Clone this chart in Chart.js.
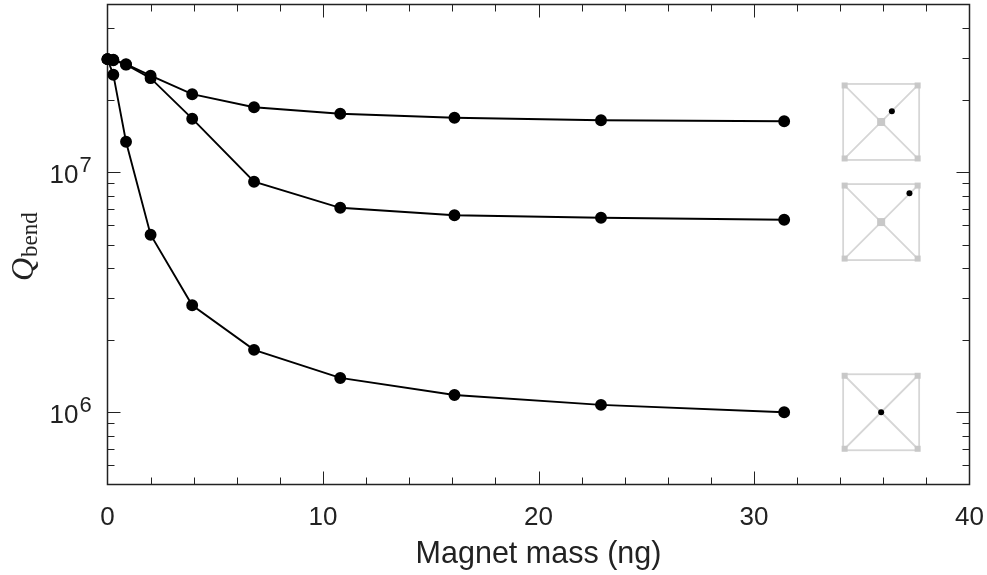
<!DOCTYPE html>
<html>
<head>
<meta charset="utf-8">
<script src="https://cdn.jsdelivr.net/npm/chart.js@4"></script>
<style>
html, body { margin: 0; background: #fff; height: 575px; overflow: hidden; }
/* the point overflow keeps 7px free above the plot, so the canvas starts a little higher */
#wrap { position: relative; top: -3px; width: 987px; height: 578px; }
</style>
</head>
<body>
<div id="wrap"><canvas id="qbend"></canvas></div>
<script>
const massTop = [0, 0.27, 0.86, 2.0, 3.93, 6.8, 10.8, 16.1, 22.9, 31.4];
const massMid = [0, 0.27, 0.86, 2.0, 3.93, 6.8, 10.8, 16.1, 22.9, 31.4];
const massLow = [0, 0.27, 0.86, 2.0, 3.93, 6.8, 10.8, 16.1, 22.9, 31.4];

const qTop = [2.96e7, 2.945e7, 2.82e7, 2.525e7, 2.115e7, 1.866e7, 1.754e7, 1.688e7, 1.648e7, 1.632e7];
const qMid = [2.96e7, 2.93e7, 2.807e7, 2.466e7, 1.672e7, 9.13e6, 7.11e6, 6.62e6, 6.46e6, 6.34e6];
const qLow = [2.96e7, 2.55e7, 1.34e7, 5.49e6, 2.79e6, 1.82e6, 1.39e6, 1.18e6, 1.073e6, 1.0e6];

const xMajor = [0, 10, 20, 30, 40];
const xMinor = [2, 4, 6, 8, 12, 14, 16, 18, 22, 24, 26, 28, 32, 34, 36, 38];
const yMajor = [1e6, 1e7];
const yMinor = [6e5, 7e5, 8e5, 9e5, 2e6, 3e6, 4e6, 5e6, 6e6, 7e6, 8e6, 9e6, 2e7, 3e7, 4e7];

// inset pictures of the membrane: centre height in Q, dot offset from centre in px
const insetCentreX = 35.9;
const insetQ = [1.62e7, 6.2e6, 1.0e6];
const insetDotDx = [10.7, 28.3, 0];
const insetDotDy = [-10.7, -28.8, 0];
const insetPad = [true, true, false];

const FONT = '"Liberation Sans", Arial, sans-serif';
const AXIS = '#222';

function makeSet(xs, ys) {
    return {
        data: xs.map((x, i) => ({ x: x, y: ys[i] })),
        borderColor: '#000', backgroundColor: '#000',
        borderWidth: 1.9, pointRadius: 5, pointHoverRadius: 5,
        tension: 0, clip: false
    };
}

const framePlugin = {
    id: 'frame',
    beforeDatasetsDraw(chart) {
        const c = chart.ctx, a = chart.chartArea, sx = chart.scales.x, sy = chart.scales.y;
        c.save();
        c.strokeStyle = AXIS;
        c.lineWidth = 1;
        c.beginPath();
        const xt = (v, len) => {
            const p = Math.round(sx.getPixelForValue(v)) + 0.5;
            c.moveTo(p, a.bottom); c.lineTo(p, a.bottom - len);
            c.moveTo(p, a.top); c.lineTo(p, a.top + len);
        };
        const yt = (v, len) => {
            const p = Math.round(sy.getPixelForValue(v)) + 0.5;
            c.moveTo(a.left, p); c.lineTo(a.left + len, p);
            c.moveTo(a.right, p); c.lineTo(a.right - len, p);
        };
        xMajor.slice(1, -1).forEach(v => xt(v, 13));
        xMinor.forEach(v => xt(v, 7));
        yMajor.forEach(v => yt(v, 13));
        yMinor.forEach(v => yt(v, 7));
        c.stroke();
        c.lineWidth = 1.5;
        c.strokeRect(a.left, a.top, a.right - a.left, a.bottom - a.top);

        // exponents of the decade labels
        c.fillStyle = '#222';
        c.font = '22px ' + FONT;
        c.textAlign = 'left';
        c.textBaseline = 'alphabetic';
        yMajor.forEach(v => {
            c.fillText(String(Math.round(Math.log10(v))), 79.5, sy.getPixelForValue(v) - 0.5);
        });

        // y title, Q with subscript
        c.translate(33, 248);
        c.rotate(-Math.PI / 2);
        c.textAlign = 'left';
        c.font = 'italic 32px "Liberation Serif", serif';
        c.fillText('Q', -36, 0);
        c.font = '23px "Liberation Serif", serif';
        c.fillText('bend', -12, 4);
        c.restore();

        // insets
        c.save();
        const cx = sx.getPixelForValue(insetCentreX);
        insetQ.forEach((q, i) => {
            const cy = sy.getPixelForValue(q), h = 38;
            c.strokeStyle = '#d6d6d6';
            c.lineWidth = 1.8;
            c.strokeRect(cx - h, cy - h, h * 2, h * 2);
            c.beginPath();
            c.moveTo(cx - h, cy - h); c.lineTo(cx + h, cy + h);
            c.moveTo(cx - h, cy + h); c.lineTo(cx + h, cy - h);
            c.stroke();
            c.fillStyle = '#c8c8c8';
            [[-1, -1], [1, -1], [-1, 1], [1, 1]].forEach(s => {
                c.fillRect(cx + s[0] * (h - 1.5) - 3, cy + s[1] * (h - 1.5) - 3, 6, 6);
            });
            if (insetPad[i]) c.fillRect(cx - 4, cy - 4, 8, 8);
            c.fillStyle = '#000';
            c.beginPath();
            c.arc(cx + insetDotDx[i], cy + insetDotDy[i], 3, 0, Math.PI * 2);
            c.fill();
        });
        c.restore();
    }
};

new Chart(document.getElementById('qbend'), {
    type: 'line',
    data: { datasets: [makeSet(massTop, qTop), makeSet(massMid, qMid), makeSet(massLow, qLow)] },
    plugins: [framePlugin],
    options: {
        responsive: true, maintainAspectRatio: false, animation: false,
        layout: { padding: { top: 7.5, right: 17.5, left: 0, bottom: 0 } },
        plugins: { legend: { display: false }, tooltip: { enabled: false } },
        scales: {
            x: {
                type: 'linear', min: 0, max: 40,
                grid: { display: false, drawTicks: false },
                border: { display: false },
                afterBuildTicks: s => { s.ticks = xMajor.map(v => ({ value: v })); },
                afterFit: s => { s.height = 90.5; s.paddingLeft = 0; s.paddingRight = 0; },
                ticks: { color: '#222', padding: 18, maxRotation: 0, font: { family: FONT, size: 26 } },
                title: { display: true, text: 'Magnet mass (ng)', color: '#222', padding: { top: 3, bottom: 2 }, font: { family: FONT, size: 30.5 } }
            },
            y: {
                type: 'logarithmic', min: 5e5, max: 5e7,
                grid: { display: false, drawTicks: false },
                border: { display: false },
                afterBuildTicks: s => { s.ticks = yMajor.map(v => ({ value: v })); },
                afterFit: s => { s.width = 107.5; s.paddingTop = 0; s.paddingBottom = 0; },
                ticks: { color: '#222', padding: 29, labelOffset: 4, font: { family: FONT, size: 26 }, callback: () => '10' }
            }
        }
    }
});
</script>
</body>
</html>
